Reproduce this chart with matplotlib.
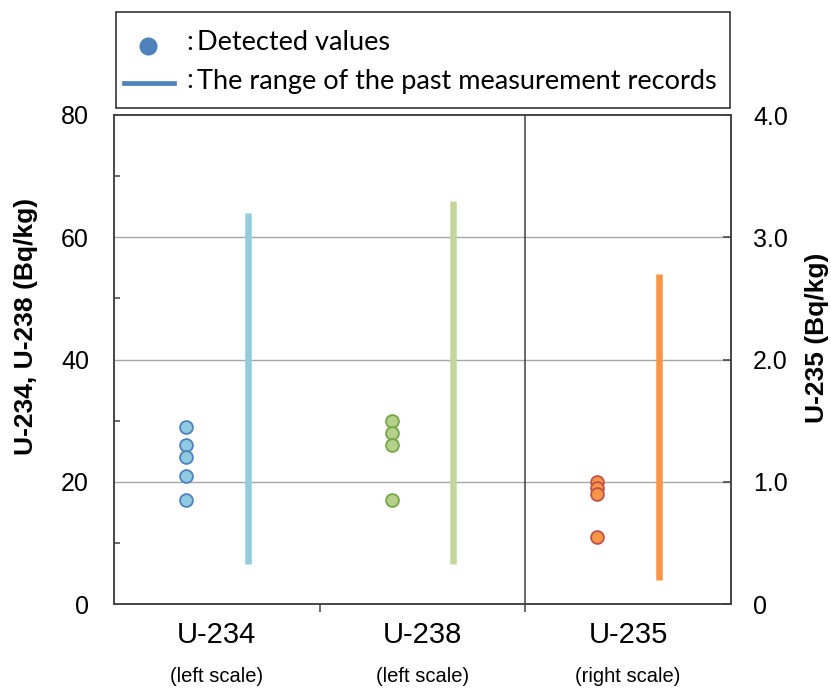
import matplotlib
matplotlib.use("Agg")
import matplotlib.pyplot as plt
from matplotlib.patches import Rectangle
from matplotlib.lines import Line2D
from matplotlib.transforms import blended_transform_factory

# data
categories = ["U-234", "U-238", "U-235"]
scale_notes = ["(left scale)", "(left scale)", "(right scale)"]
u234_detected = [29, 26, 24, 21, 17]
u238_detected = [30, 28, 26, 17]
u235_detected = [1.0, 0.95, 0.9, 0.55]          # right scale
range_low = [6.5, 6.5, 0.2]
range_high = [64, 66, 2.7]

fill_colors = ["#8fcae0", "#b3d18a", "#f79646"]
edge_colors = ["#4f81bd", "#77a544", "#c0504d"]
bar_colors = ["#93cddd", "#c3d69b", "#f79646"]

W, H = 831, 691
plt.rcParams['font.family'] = ['Liberation Sans', 'DejaVu Sans']
fig = plt.figure(figsize=(W / 100, H / 100), dpi=100)


def fx(x):
    return x / W


def fy(y):
    return 1 - y / H


ax = fig.add_axes([fx(114), fy(604), fx(731) - fx(114), fy(115) - fy(604)])
ax2 = ax.twinx()

ax.set_xlim(0, 3)
ax.set_ylim(0, 80)
ax2.set_ylim(0, 4)

# grid
for g in [20, 40, 60]:
    ax.axhline(g, color="#a6a6a6", lw=1.0, zorder=0)
ax.axvline(2, color="#404040", lw=1.1, zorder=1)

off = 0.15
pts = [u234_detected, u238_detected]
for i in range(2):
    ax.scatter([i + 0.5 - off] * len(pts[i]), pts[i], s=85, c=fill_colors[i],
               edgecolors=edge_colors[i], linewidths=1.3, zorder=3)
    ax.vlines(i + 0.5 + off, range_low[i], range_high[i], colors=bar_colors[i],
              lw=4.7, zorder=2)
ax2.scatter([2.5 - off] * len(u235_detected), u235_detected, s=85, c=fill_colors[2],
            edgecolors=edge_colors[2], linewidths=1.3, zorder=3)
ax2.vlines(2.5 + off, range_low[2], range_high[2], colors=bar_colors[2], lw=4.7, zorder=2)

# axes styling
for a in (ax, ax2):
    for s in a.spines.values():
        s.set_color("#404040")
        s.set_linewidth(1.1)

ax.set_yticks([0, 20, 40, 60, 80])
ax.set_yticks([10, 30, 50, 70], minor=True)
ax.tick_params(axis="y", which="major", length=0, pad=18, labelsize=18)
ax.tick_params(axis="y", which="minor", direction="in", length=4, width=1.1, color="#404040")
ax2.set_yticks([0, 1, 2, 3, 4])
ax2.set_yticklabels(["0", "1.0", "2.0", "3.0", "4.0"])
ax2.tick_params(axis="y", which="major", direction="in", length=6, width=1.1,
                color="#404040", pad=16, labelsize=18)

ax.set_xticks([1, 2])
ax.set_xticklabels([])
ax.tick_params(axis="x", which="major", direction="out", length=6, width=1.1, color="#404040")
ax.set_xticks([0.5, 1.5, 2.5], minor=True)
ax.set_xticklabels(categories, minor=True)
ax.tick_params(axis="x", which="minor", length=0, pad=12, labelsize=21)
note_tr = blended_transform_factory(ax.transData, fig.transFigure)
for i, note in enumerate(scale_notes):
    ax.text(i + 0.5, fy(677), note, transform=note_tr, ha="center", va="center", fontsize=14.5)

fig.text(fx(26), fy(326), "U-234, U-238 (Bq/kg)", rotation=90, ha="center", va="center",
         fontsize=19, fontweight="bold")
fig.text(fx(817), fy(338), "U-235 (Bq/kg)", rotation=90, ha="center", va="center",
         fontsize=19, fontweight="bold")

# legend box
fig.patches.append(Rectangle((fx(116), fy(108)), fx(730) - fx(116), fy(12) - fy(108),
                             transform=fig.transFigure, fill=False, edgecolor="#262626", lw=1.1))
fig.lines.append(Line2D([fx(148)], [fy(46)], marker="o", ms=12, color="#4f81bd",
                        mec="#4f81bd", transform=fig.transFigure))
fig.lines.append(Line2D([fx(124), fx(174)], [fy(83), fy(83)], color="#4f81bd", lw=3.4,
                        transform=fig.transFigure))
lfont = ['Lato', 'DejaVu Sans']
fig.text(fx(186), fy(43), ":", ha="left", va="center", fontsize=19.5, family=lfont)
fig.text(fx(197), fy(43), "Detected values", ha="left", va="center", fontsize=19.5, family=lfont)
fig.text(fx(186), fy(81), ":", ha="left", va="center", fontsize=19.5, family=lfont)
fig.text(fx(197), fy(81), "The range of the past measurement records", ha="left", va="center",
         fontsize=19.5, family=lfont)

fig.savefig("out.png", dpi=100)
